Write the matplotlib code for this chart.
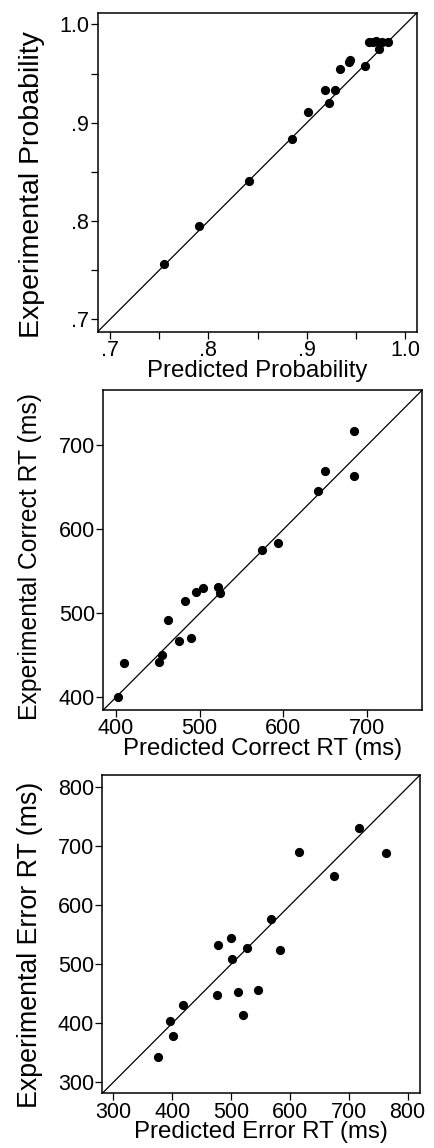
import matplotlib
matplotlib.use("Agg")
import matplotlib.pyplot as plt
from matplotlib.ticker import FixedLocator

plt.rcParams['font.family'] = ['Liberation Sans', 'DejaVu Sans']

# Panel 1: probability
prob_pred = [0.755, 0.790, 0.841, 0.885, 0.901, 0.918, 0.923, 0.929, 0.934, 0.943,
             0.944, 0.959, 0.963, 0.967, 0.970, 0.973, 0.976, 0.983]
prob_exp = [0.756, 0.795, 0.841, 0.884, 0.911, 0.933, 0.920, 0.933, 0.955, 0.962,
            0.964, 0.958, 0.982, 0.982, 0.983, 0.975, 0.982, 0.982]

# Panel 2: correct RT
crt_pred = [402, 410, 452, 455, 462, 476, 482, 490, 496, 504, 522, 524, 575, 594,
            641, 650, 685, 685]
crt_exp = [401, 441, 442, 451, 492, 467, 515, 471, 525, 530, 532, 524, 575, 584,
           646, 669, 717, 664]

# Panel 3: error RT
ert_pred = [376, 396, 402, 419, 476, 478, 500, 502, 511, 520, 527, 545, 567, 583,
            616, 674, 718, 763]
ert_exp = [343, 404, 378, 430, 448, 532, 544, 508, 453, 414, 527, 457, 577, 524,
           690, 650, 731, 688]

prob_ticks = [0.7, 0.8, 0.9, 1.0]
prob_tick_labels = ['.7', '.8', '.9', '1.0']
prob_minor = [0.75, 0.85, 0.95]
crt_ticks = [400, 500, 600, 700]
ert_ticks = [300, 400, 500, 600, 700, 800]

W, H = 434, 1148
fig = plt.figure(figsize=(W / 100, H / 100), dpi=100)

def add_ax(l, r, t, b):
    return fig.add_axes([l / W, 1 - b / H, (r - l) / W, (b - t) / H])

panels = [
    dict(box=(97.7, 417, 12.7, 331.7), x=prob_pred, y=prob_exp, lim=(0.6875, 1.012),
         ticks=prob_ticks, labels=prob_tick_labels, minor=prob_minor,
         xl='Predicted Probability', yl='Experimental Probability',
         ylx=32, yly=185, ylfs=20.5),
    dict(box=(103.3, 422.3, 390, 710), x=crt_pred, y=crt_exp, lim=(385, 766),
         ticks=crt_ticks, labels=[str(t) for t in crt_ticks], minor=[],
         xl='Predicted Correct RT (ms)', yl='Experimental Correct RT (ms)',
         ylx=30, yly=556, ylfs=17.8),
    dict(box=(102.3, 420, 775, 1093.3), x=ert_pred, y=ert_exp, lim=(281, 821),
         ticks=ert_ticks, labels=[str(t) for t in ert_ticks], minor=[],
         xl='Predicted Error RT (ms)', yl='Experimental Error RT (ms)',
         ylx=30, yly=945, ylfs=19.3),
]

for p in panels:
    ax = add_ax(*p['box'])
    lo, hi = p['lim']
    ax.plot([lo, hi], [lo, hi], color='black', lw=0.9, zorder=1)
    ax.scatter(p['x'], p['y'], s=44, color='black', zorder=2, linewidths=0)
    ax.set_xlim(lo, hi)
    ax.set_ylim(lo, hi)
    ax.xaxis.set_major_locator(FixedLocator(p['ticks']))
    ax.yaxis.set_major_locator(FixedLocator(p['ticks']))
    ax.set_xticklabels(p['labels'])
    ax.set_yticklabels(p['labels'])
    if p['minor']:
        ax.xaxis.set_minor_locator(FixedLocator(p['minor']))
        ax.yaxis.set_minor_locator(FixedLocator(p['minor']))
    ax.tick_params(which='both', direction='out', length=5, width=0.9,
                   labelsize=15.5, pad=1, color='black')
    for s in ax.spines.values():
        s.set_linewidth(1.1)
    ax.set_xlabel(p['xl'], fontsize=17.3, labelpad=-1)
    fig.text(p['ylx'] / W, 1 - p['yly'] / H, p['yl'], rotation=90,
             ha='center', va='center', fontsize=p['ylfs'])

fig.savefig('out.png', dpi=100)
